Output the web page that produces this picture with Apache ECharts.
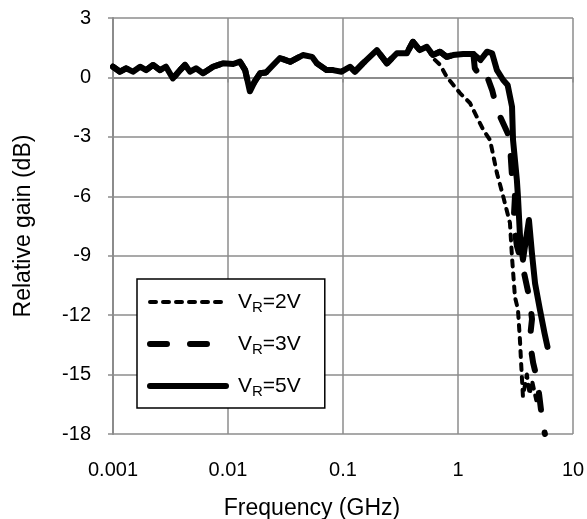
<!DOCTYPE html>
<html>
<head>
<meta charset="utf-8">
<script src="https://cdn.jsdelivr.net/npm/echarts@6/dist/echarts.min.js"></script>
<style>
html,body{margin:0;padding:0;background:#fff;}
#chart{width:587px;height:519px;}
</style>
</head>
<body>
<div id="chart"></div>
<script>
// Shared flat passband (all three curves overlap here): [frequency GHz, gain dB]
var flatPart = [
  [0.001,0.54],[0.00115,0.29],[0.0013,0.46],[0.00149,0.29],[0.00172,0.54],[0.00194,0.37],
  [0.00223,0.63],[0.00256,0.37],[0.00289,0.54],[0.00332,-0.05],[0.00383,0.37],[0.00423,0.63],
  [0.00468,0.29],[0.00527,0.46],[0.00606,0.21],[0.00741,0.54],[0.00904,0.71],[0.0111,0.68],
  [0.0127,0.8],[0.0141,0.37],[0.0155,-0.7],[0.0171,-0.2],[0.019,0.21],[0.0214,0.25],
  [0.0247,0.63],[0.0283,0.98],[0.0347,0.79],[0.0448,1.13],[0.0538,1.04],[0.0593,0.71],
  [0.0721,0.37],[0.0815,0.37],[0.0973,0.29],[0.115,0.54],[0.127,0.29],[0.149,0.71],
  [0.197,1.38],[0.241,0.71],[0.294,1.22],[0.359,1.22],[0.405,1.8],[0.465,1.38],[0.535,1.55]
];
var tail2V = [
  [0.605,0.98],[0.7,0.63],[0.8,0.02],[1.04,-0.79],[1.27,-1.29],[1.66,-2.65],[1.9,-3.16],
  [2.18,-4.83],[2.47,-6.0],[2.83,-7.35],[2.95,-9.1],[3.13,-11.1],[3.32,-11.7],[3.46,-13.3],
  [3.53,-14.3],[3.67,-16.1],[3.97,-15.0],[4.2,-16.0],[4.4,-15.3],[4.8,-16.3]
];
var mid5V = [
  [0.605,1.13],[0.696,1.3],[0.798,1.04],[0.906,1.13],[1.11,1.18],[1.36,1.18]
];
var tail3V = [
  [1.4,0.46],[1.57,0.04],[1.73,0.29],[1.98,-0.64],[2.22,-1.73],[2.7,-2.8],[2.86,-3.8],
  [2.95,-5.0],[3.13,-6.0],[3.05,-7.2],[3.25,-8.5],[3.67,-9.6],[4.2,-11.2],[4.4,-12.2],
  [4.2,-13.3],[4.5,-14.4],[4.9,-15.3],[5.1,-16.1],[5.4,-17.3],[5.7,-18.0]
];
var tail5V = [
  [1.57,0.88],[1.79,1.3],[1.98,1.22],[2.18,0.37],[2.47,-0.13],[2.7,-0.38],[2.95,-1.48],
  [3.01,-3.16],[3.25,-5.18],[3.32,-6.0],[3.46,-8.0],[3.67,-9.2],[4.14,-7.2],[4.4,-8.9],
  [4.68,-10.4],[5.15,-11.7],[5.65,-12.9],[6.0,-13.6]
];
var seriesNames = ['VR=2V','VR=3V','VR=5V'];
var xTickLabels = ['0.001','0.01','0.1','1','10'];
var yMin = -18, yMax = 3, yStep = 3;

var data2V = flatPart.concat(tail2V);
var data3V = flatPart.concat(mid5V, tail3V);
var data5V = flatPart.concat(mid5V, tail5V);

var chart = echarts.init(document.getElementById('chart'));
var gray = '#8c8c8c';
var font = 'Liberation Sans, Arial, sans-serif';
var style2V = {color: '#000', width: 4, type: [6, 7], cap: 'round', join: 'round'};
var style3V = {color: '#000', width: 6, type: [17, 23], cap: 'round', join: 'round'};
var style5V = {color: '#000', width: 6, type: 'solid', cap: 'round', join: 'round'};
chart.setOption({
  backgroundColor: '#fff',
  animation: false,
  grid: {left: 113, right: 14, top: 18, bottom: 85, containLabel: false, outerBoundsMode: 'none'},
  xAxis: {
    type: 'log', logBase: 10, min: 0.001, max: 10,
    name: 'Frequency (GHz)', nameLocation: 'middle', nameGap: 63,
    nameTextStyle: {fontFamily: font, fontSize: 23, color: '#000', padding: [0, 62, 0, 0]},
    axisLine: {show: true, lineStyle: {color: gray, width: 2}},
    axisTick: {show: true, inside: false, length: 5, lineStyle: {color: gray, width: 1.5}},
    minorTick: {show: false},
    splitLine: {show: true, lineStyle: {color: gray, width: 1.5}},
    axisLabel: {
      fontFamily: font, fontSize: 20, color: '#000', margin: 26,
      formatter: function (v) {
        var i = Math.round(Math.log10(v)) + 3;
        return xTickLabels[i] !== undefined ? xTickLabels[i] : '';
      }
    }
  },
  yAxis: {
    type: 'value', min: yMin, max: yMax, interval: yStep,
    name: 'Relative gain (dB)', nameLocation: 'middle', nameGap: 78, nameRotate: 90,
    nameTextStyle: {fontFamily: font, fontSize: 23, color: '#000'},
    axisLine: {show: true, lineStyle: {color: gray, width: 2}},
    axisTick: {show: true, inside: false, length: 5, lineStyle: {color: gray, width: 1.5}},
    splitLine: {show: true, lineStyle: {color: gray, width: 1.5}},
    axisLabel: {fontFamily: font, fontSize: 20, color: '#000', margin: 22}
  },
  legend: {
    orient: 'vertical', left: 137, top: 279,
    backgroundColor: '#fff', borderColor: '#000', borderWidth: 1.5, borderRadius: 0,
    padding: [10, 24, 9, 10],
    itemWidth: 76, itemHeight: 14, itemGap: 16,
    selectedMode: false,
    itemStyle: {opacity: 0, borderWidth: 0},
    data: [
      {name: seriesNames[0], lineStyle: {width: 4}},
      {name: seriesNames[1], lineStyle: {width: 6}},
      {name: seriesNames[2], lineStyle: {width: 6}}
    ],
    formatter: function (name) { return 'V{sub|R}' + name.slice(2); },
    textStyle: {
      fontFamily: font, fontSize: 21, color: '#000', lineHeight: 26, padding: [0, 0, 0, 7],
      rich: {sub: {fontFamily: font, fontSize: 15, color: '#000', lineHeight: 15, verticalAlign: 'bottom'}}
    }
  },
  series: [
    {name: seriesNames[0], type: 'line', data: data2V, symbol: 'none', z: 2, lineStyle: style2V},
    {name: seriesNames[1], type: 'line', data: data3V, symbol: 'none', z: 3, lineStyle: style3V},
    {name: seriesNames[2], type: 'line', data: data5V, symbol: 'none', z: 4, lineStyle: style5V}
  ]
});
</script>
</body>
</html>
